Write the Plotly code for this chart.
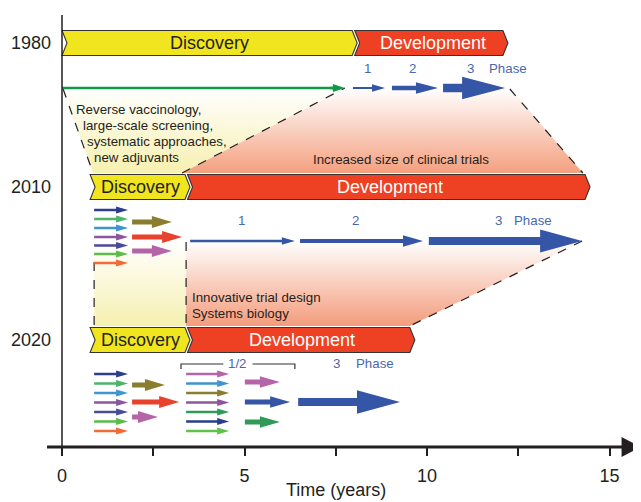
import plotly.graph_objects as go

# ---------------- data (time in years) ----------------
row_labels = ["1980", "2010", "2020"]
disc_start = [0.0, 0.77, 0.77]
disc_end = [7.95, 3.37, 3.37]
dev_end = [12.08, 14.33, 9.53]

green_1980 = [0.0, 7.75]
phase_1980 = [[7.97, 8.85], [9.04, 10.30], [10.44, 12.14]]
phase_1980_lbl = [8.36, 9.59, 11.18, 12.22]
phase_2010 = [[3.51, 6.38], [6.52, 9.89], [10.05, 14.25]]
phase_2010_lbl = [4.93, 8.03, 11.95, 12.90]
phase_2020 = [[6.47, 9.26]]
phase_2020_lbl = [7.53, 8.58]
bracket_2020 = [3.26, 6.38]

screen_2010 = [0.88, 1.81]
cand_2010 = [[1.92, 3.01], [1.92, 3.29], [1.92, 3.01]]
screen_2020 = [0.88, 1.81]
cand_2020 = [[1.92, 2.82], [1.92, 3.21], [1.92, 2.63]]
early_2020 = [3.40, 4.58]
mid_2020 = [[5.01, 5.97], [5.01, 6.25], [5.01, 5.97]]

region_1980_yellow = [[0.0, 7.75, 3.29, 0.85]]
region_1980_red = [[3.29, 7.75, 12.27, 14.27]]
region_2010_yellow = [0.88, 3.40]
region_2010_red = [3.40, 14.25, 9.53]

# ---------------- layout / style constants ----------------
K = 36.5          # pixels per year
OFF = 8           # page body margin
FONT = "Liberation Sans, Arial, sans-serif"
DARK = "#231f20"
YEL = "#f0e51e"
RED = "#ee4124"
BLUE = "#3556a6"
LBLUE = "#4a67b0"
SMALL = 13.3
row_y = [43, 187, 340]
HH = 12.5
D = 5 / K
G = 2.5 / K

screen_colors = ["#2b3d8f", "#4db56a", "#3d95d1", "#8e559f", "#4b4a9b", "#5bbb4b", "#f26a36"]
cand_colors = ["#8b7d2e", "#e8412c", "#b565a7"]
early_colors = ["#b565a7", "#3d95d1", "#8b7d2e", "#8e559f", "#2f9b57", "#2b3d8f", "#5fc24a"]
mid_colors = ["#b565a7", BLUE, "#2f9b57"]

fig = go.Figure()
shapes = []
ann = []


def P(pts):
    return "M" + " L".join(f"{x},{y}" for x, y in pts) + " Z"


def arrow(x0, x1, y, shaft, hl, hh, color):
    xh = x1 - hl / K
    s = shaft / 2
    pts = [(x0, y - s), (xh, y - s), (xh, y - hh), (x1, y), (xh, y + hh), (xh, y + s), (x0, y + s)]
    shapes.append(dict(type="path", path=P(pts), fillcolor=color, line=dict(width=0), layer="above"))


def dashed(x0, y0, x1, y1):
    shapes.append(dict(type="line", x0=x0, y0=y0, x1=x1, y1=y1,
                       line=dict(color=DARK, width=1.2, dash="dash"), layer="above"))


def text(x, y, s, size=SMALL, color=DARK, xanchor="left"):
    ann.append(dict(x=x, y=y, text=s, showarrow=False, xanchor=xanchor, yanchor="middle",
                    font=dict(family=FONT, size=size, color=color)))


def grad(xs, ys, top, bot, c1):
    fig.add_trace(go.Scatter(x=xs, y=ys, fill="toself", mode="none",
                             fillgradient=dict(type="vertical", start=top, stop=bot,
                                               colorscale=[[0, "#ffffff"], [1, c1]]),
                             hoverinfo="skip", showlegend=False))


# ---------------- gradient regions ----------------
r = region_1980_yellow[0]
grad([r[0], r[1], r[2], r[3]], [88, 88, 173, 173], 88, 173, "#f6f0b0")
r = region_1980_red[0]
grad([r[0], r[1], r[2], r[3]], [173, 88, 88, 173], 88, 173, "#f4a07f")
a, b = region_2010_yellow
grad([a, b, b, a], [241, 241, 326, 326], 241, 326, "#f6f0b0")
a, b, c = region_2010_red
grad([a, b, c, a], [241, 241, 326, 326], 241, 326, "#f49c7c")

# dashed borders
dashed(0.03, 89, 0.85, 173)
dashed(3.29, 173, 7.75, 88)
dashed(12.27, 89, 14.27, 173)
dashed(0.88, 262, 0.88, 326)
dashed(3.40, 242, 3.40, 326)
dashed(14.25, 241, 9.53, 326)

# ---------------- bars ----------------
for i in range(3):
    yc = row_y[i]
    t, bt = yc - HH, yc + HH
    x0, xb, xe = disc_start[i], disc_end[i], dev_end[i]
    shapes.append(dict(type="path", layer="above",
                       path=P([(x0, t), (xb, t), (xb + D, yc), (xb, bt), (x0, bt), (x0 + D, yc)]),
                       fillcolor=YEL, line=dict(color="#333333", width=1.1)))
    shapes.append(dict(type="path", layer="above",
                       path=P([(xb + G, t), (xe, t), (xe + D, yc), (xe, bt), (xb + G, bt), (xb + G + D, yc)]),
                       fillcolor=RED, line=dict(color="#333333", width=1.1)))
    text((x0 + xb) / 2 + D / 2, yc, "Discovery", 18, DARK, "center")
    text((xb + xe) / 2 + D, yc, "Development", 18, "white", "center")

# ---------------- 1980 arrows ----------------
shapes.append(dict(type="line", x0=green_1980[0], x1=green_1980[1] - 0.3, y0=88, y1=88,
                   line=dict(color="#0f9a48", width=2.5), layer="above"))
arrow(green_1980[1] - 0.4, green_1980[1], 88, 2.5, 12, 4, "#0f9a48")
styles = [(2.2, 13, 3.8), (4.5, 22, 5.8), (8.5, 43, 11.3)]
for (x0, x1), st in zip(phase_1980, styles):
    arrow(x0, x1, 88, *st, BLUE)
for x, s in zip(phase_1980_lbl, ["1", "2", "3", "Phase"]):
    text(x, 68, s, SMALL, LBLUE, "center")

# ---------------- 2010 arrows ----------------
lanes = [210, 219, 228, 237, 245.5, 254, 263]
for y, c in zip(lanes, screen_colors):
    arrow(screen_2010[0], screen_2010[1], y, 2.5, 12, 3.5, c)
for (x0, x1), y, c in zip(cand_2010, [222, 237, 251], cand_colors):
    arrow(x0, x1, y, 5, 20, 6, c)
styles = [(2.5, 13, 3.8), (4.2, 20, 5.8), (8, 42, 11.5)]
for (x0, x1), st in zip(phase_2010, styles):
    arrow(x0, x1, 241, *st, BLUE)
for x, s in zip(phase_2010_lbl, ["1", "2", "3", "Phase"]):
    text(x, 220, s, SMALL, LBLUE, "center")

# ---------------- 2020 arrows ----------------
lanes = [374, 383.5, 393, 402.5, 412, 421.5, 431]
for y, c in zip(lanes, screen_colors):
    arrow(screen_2020[0], screen_2020[1], y, 2.5, 12, 3.5, c)
for (x0, x1), y, c in zip(cand_2020, [385, 402, 417], cand_colors):
    arrow(x0, x1, y, 5, 20, 6, c)
for y, c in zip(lanes, early_colors):
    arrow(early_2020[0], early_2020[1], y, 2.5, 12, 3.5, c)
for (x0, x1), y, c in zip(mid_2020, [382, 402, 422], mid_colors):
    arrow(x0, x1, y, 5, 20, 5.8, c)
for (x0, x1) in phase_2020:
    arrow(x0, x1, 402, 8, 43, 11.8, BLUE)
for x, s in zip(phase_2020_lbl, ["3", "Phase"]):
    text(x, 363, s, SMALL, LBLUE, "center")

bx0, bx1 = bracket_2020
bm = (bx0 + bx1) / 2
for pts in ([(bx0, 369), (bx0, 364), (bm - 0.4, 364)], [(bm + 0.4, 364), (bx1, 364), (bx1, 369)]):
    shapes.append(dict(type="path", path="M" + " L".join(f"{x},{y}" for x, y in pts),
                       line=dict(color="#333333", width=1.2), layer="above"))
text(bm, 363, "1/2", SMALL, LBLUE, "center")

# ---------------- texts ----------------
for (x, y, s) in [(0.33, 109, "Reverse vaccinology,"), (0.52, 125, "large-scale screening,"),
                  (0.63, 141, "systematic approaches,"), (0.82, 157, "new adjuvants")]:
    text(x, y, s)
text(6.83, 159, "Increased size of clinical trials")
text(3.52, 297, "Innovative trial design")
text(3.52, 313, "Systems biology")

for lbl, y in zip(row_labels, row_y):
    text(-0.25, y, lbl, 18, DARK, "right")

# ---------------- axes ----------------
shapes.append(dict(type="line", x0=0, x1=0, y0=15, y1=447, line=dict(color=DARK, width=1.5), layer="above"))
shapes.append(dict(type="line", xref="x", yref="paper", x0=-0.41, x1=15.45, y0=0, y1=0,
                   line=dict(color=DARK, width=3), layer="above"))
shapes.append(dict(type="path", xref="x", yref="paper", ysizemode="pixel", yanchor=0,
                   path="M15.33,-10 L15.85,0 L15.33,10 Z", fillcolor=DARK, line=dict(width=0), layer="above"))

PH = 447 - OFF
ann.append(dict(x=7.5, y=-(490 - 447) / PH, xref="x", yref="paper", text="Time (years)", showarrow=False,
                xanchor="center", yanchor="middle", font=dict(family=FONT, size=18, color=DARK)))

fig.update_layout(
    width=641 - OFF, height=502 - OFF, margin=dict(l=0, r=0, t=0, b=55),
    plot_bgcolor="white", paper_bgcolor="white", showlegend=False,
    shapes=shapes, annotations=ann,
    xaxis=dict(range=[(OFF - 62) / K, 579 / K], showgrid=False, zeroline=False, showline=False,
               tickvals=[0, 2.5, 5, 7.5, 10, 12.5, 15], ticktext=["0", "", "5", "", "10", "", "15"],
               ticks="outside", ticklen=8, tickwidth=1.5, tickcolor=DARK, ticklabelstandoff=4,
               tickfont=dict(family=FONT, size=18, color=DARK)),
    yaxis=dict(range=[447, OFF], showgrid=False, zeroline=False, showline=False, showticklabels=False, ticks=""),
)

fig.write_html("out.html")
